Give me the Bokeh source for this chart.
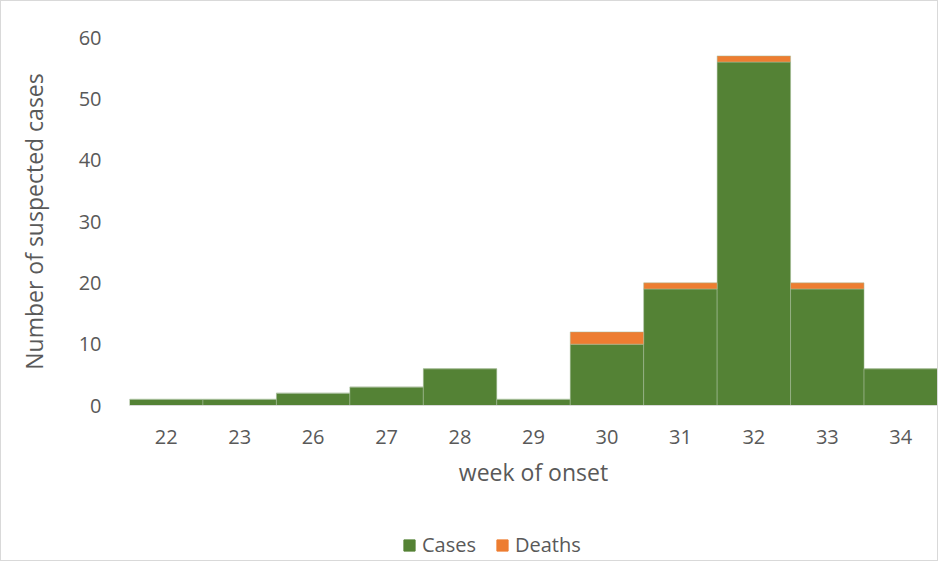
from bokeh.plotting import figure
from bokeh.models import Legend, LegendItem, Range1d, FactorRange
from bokeh.layouts import column
from bokeh.embed import file_html
from bokeh.resources import INLINE

weeks = ["22", "23", "26", "27", "28", "29", "30", "31", "32", "33", "34"]
cases = [1, 1, 2, 3, 6, 1, 10, 19, 56, 19, 6]
deaths = [0, 0, 0, 0, 0, 0, 2, 1, 1, 1, 0]
series = ["Cases", "Deaths"]
colors = ["#548235", "#ED7D31"]

FONT = "Open Sans"
GREY = "#595959"

p = figure(x_range=FactorRange(*weeks, range_padding=0), y_range=Range1d(0, 60),
           width=936, height=500, output_backend="svg", toolbar_location=None,
           min_border_left=128, min_border_right=0, min_border_top=36, min_border_bottom=96)

r = p.vbar_stack(["cases", "deaths"], x="weeks", width=1.0,
                 color=colors, line_color="#a9bf9c", line_width=0.5,
                 source=dict(weeks=weeks, cases=cases, deaths=deaths))

p.xgrid.grid_line_color = None
p.ygrid.grid_line_color = None
p.outline_line_color = None

p.yaxis.axis_line_color = None
p.yaxis.major_tick_line_color = None
p.yaxis.minor_tick_line_color = None
p.yaxis.ticker = [0, 10, 20, 30, 40, 50, 60]
p.yaxis.major_label_text_font = FONT
p.yaxis.major_label_text_font_size = "20px"
p.yaxis.major_label_text_color = GREY
p.yaxis.axis_label = "Number of suspected cases"
p.yaxis.axis_label_text_font = FONT
p.yaxis.axis_label_text_font_size = "23px"
p.yaxis.axis_label_text_font_style = "normal"
p.yaxis.axis_label_text_color = GREY
p.yaxis.major_label_standoff = 22
p.yaxis.axis_label_standoff = 26

p.xaxis.axis_line_color = "#d9d9d9"
p.xaxis.major_tick_line_color = None
p.xaxis.minor_tick_line_color = None
p.xaxis.major_label_text_font = FONT
p.xaxis.major_label_text_font_size = "20px"
p.xaxis.major_label_text_color = GREY
p.xaxis.major_label_standoff = 18
p.xaxis.axis_label = "week of onset"
p.xaxis.axis_label_text_font = FONT
p.xaxis.axis_label_text_font_size = "23px"
p.xaxis.axis_label_text_font_style = "normal"
p.xaxis.axis_label_text_color = GREY
p.xaxis.axis_label_standoff = 9

# legend strip below the chart (its frame is aligned with the chart's frame)
p2 = figure(width=936, height=59, output_backend="svg", toolbar_location=None,
            x_axis_type=None, y_axis_type=None, x_range=Range1d(0, 1), y_range=Range1d(0, 1),
            min_border=0)
p2.outline_line_color = None
dummies = [p2.vbar(x=[10], top=[1], width=0.1, color=c) for c in colors]
legend = Legend(items=[LegendItem(label=s, renderers=[d]) for s, d in zip(series, dummies)],
                orientation="horizontal", location=(273, 2),
                label_text_font=FONT, label_text_font_size="20px", label_text_color=GREY,
                glyph_width=14, glyph_height=14, spacing=19, label_standoff=6,
                border_line_color=None, background_fill_alpha=0, margin=0, padding=0)
p2.add_layout(legend, "center")

layout = column(p, p2, spacing=0)
layout.styles = {"border": "1px solid #d9d9d9"}

open("out.html", "w").write(file_html(layout, INLINE))
